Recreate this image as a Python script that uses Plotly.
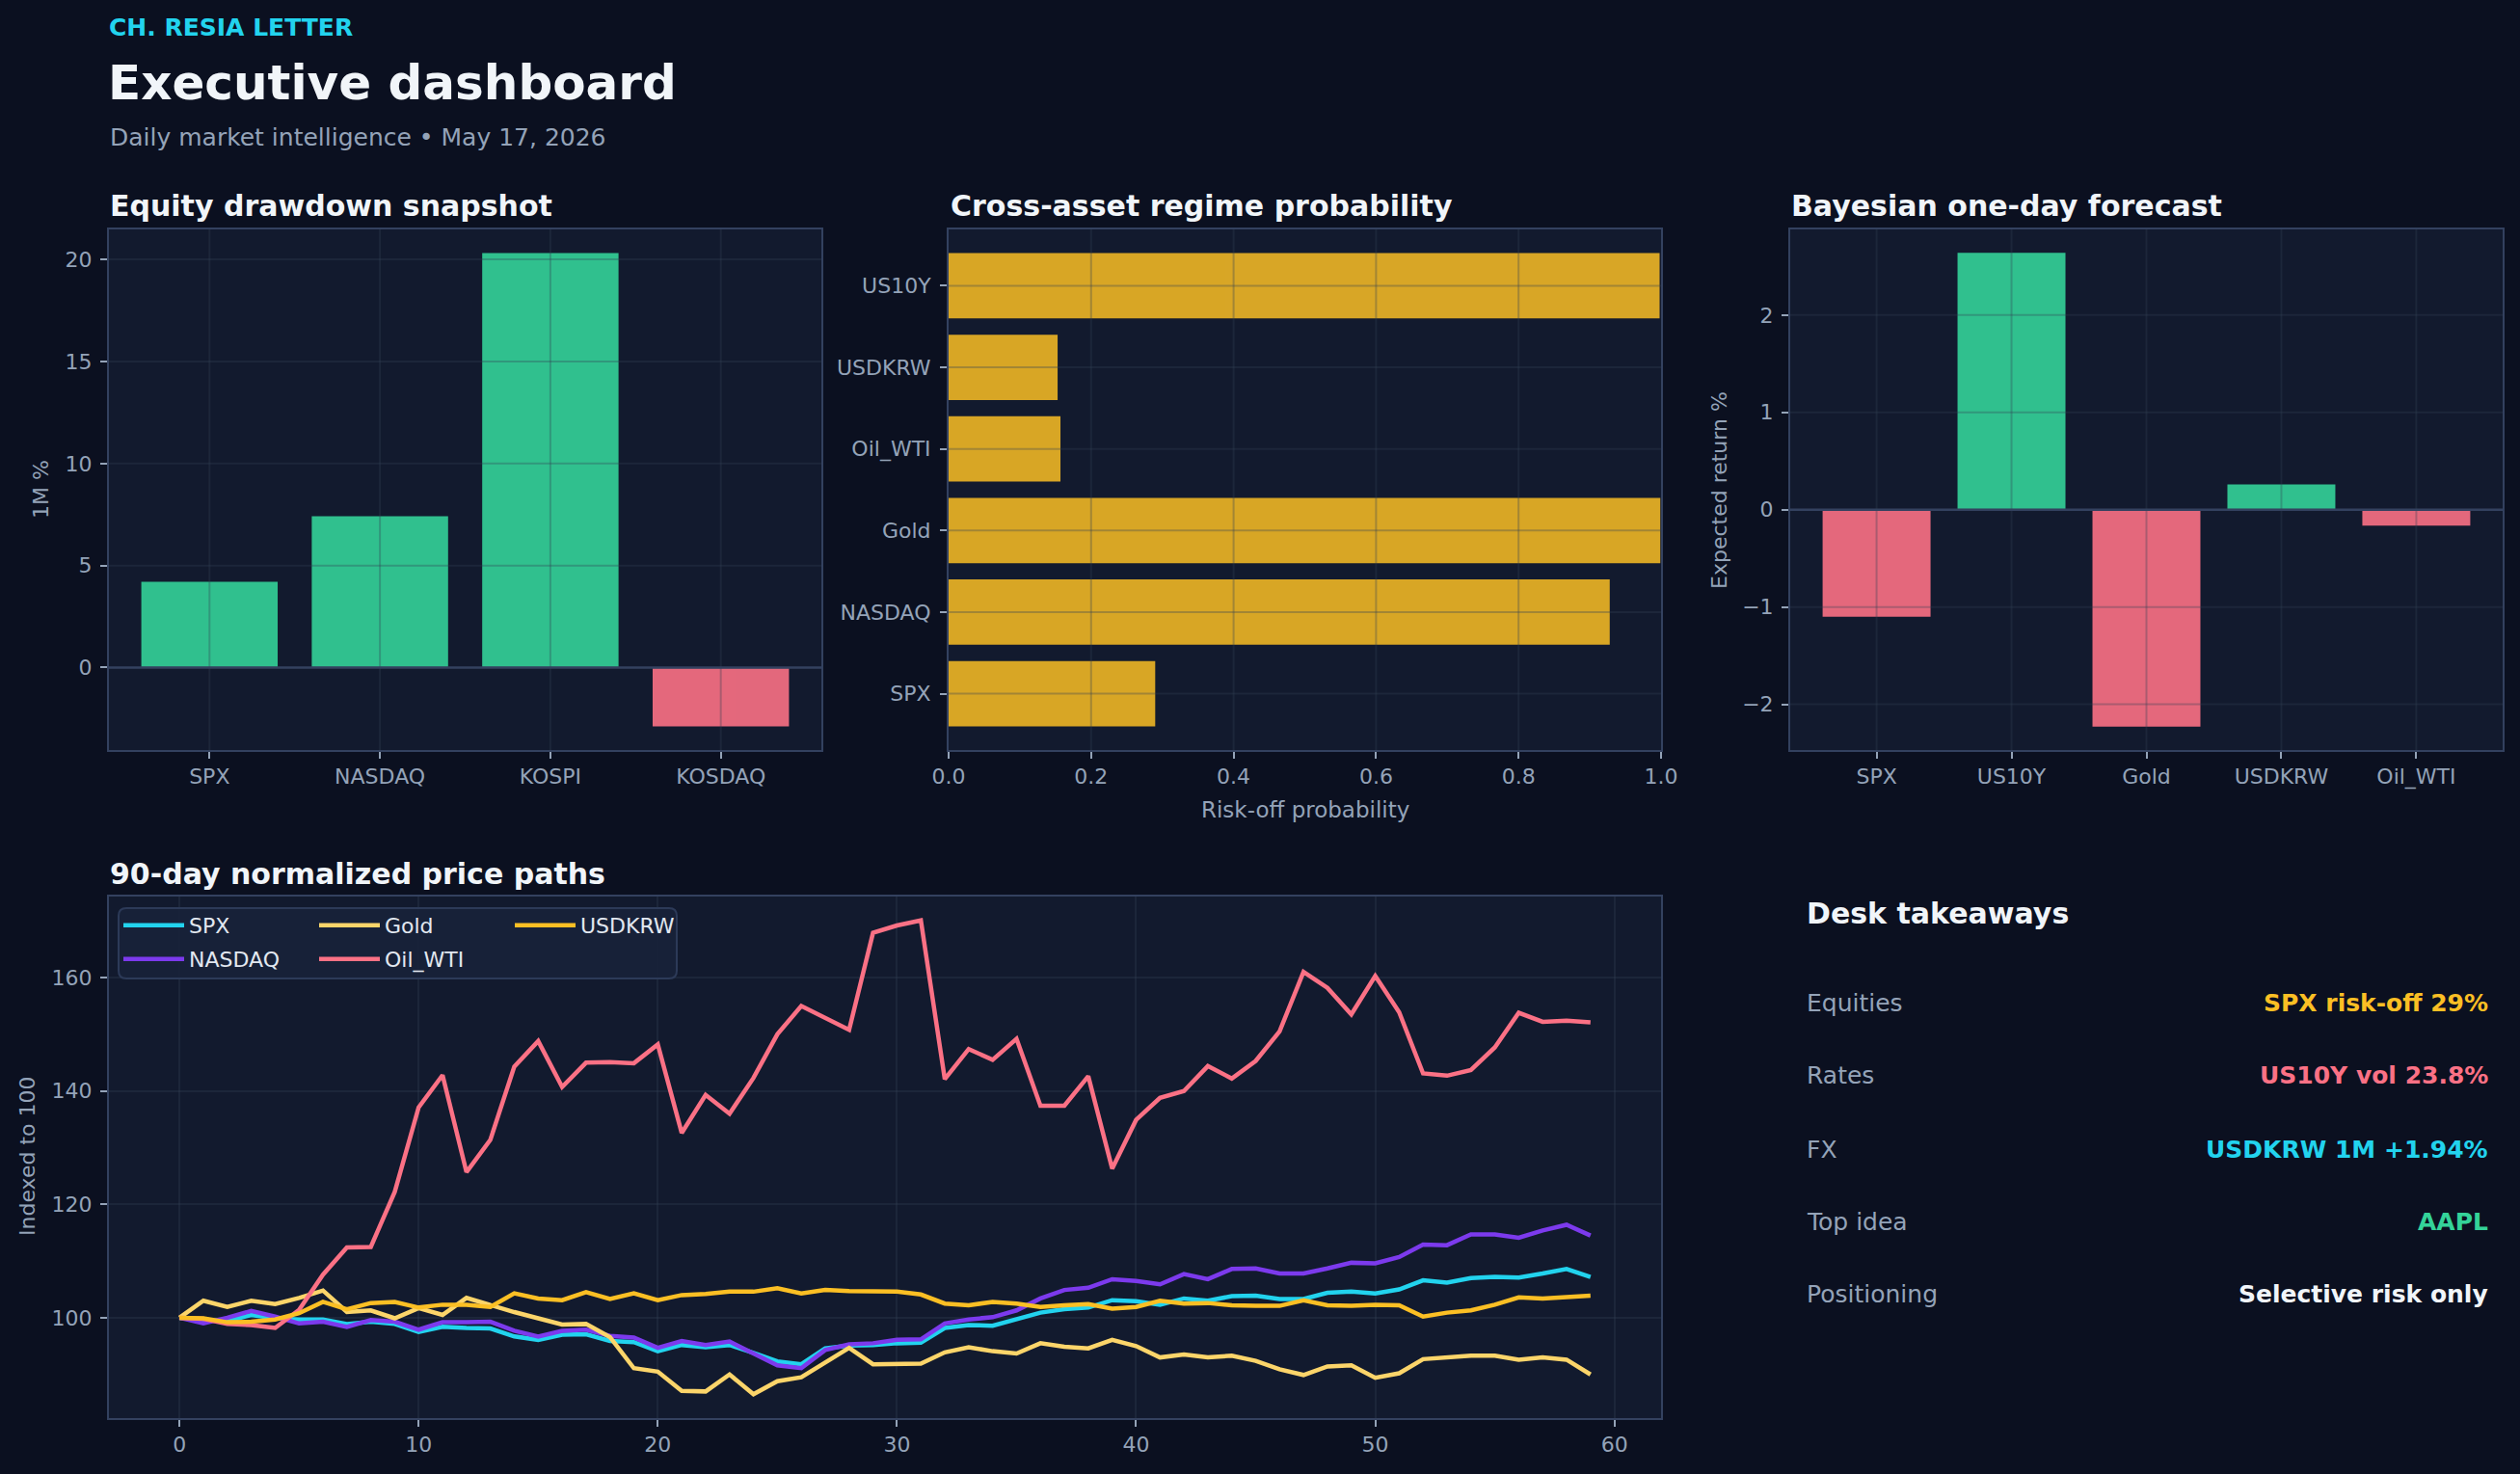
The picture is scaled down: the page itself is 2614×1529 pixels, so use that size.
import plotly.graph_objects as go

W, H = 2614, 1529

BG = "#0b1020"
PANEL = "#121a2e"
GRID = "rgba(51,65,85,0.32)"
SPINE = "#33415f"
MUTED = "#94a3b8"
TEXT = "#f1f5f9"
GREEN = "#34d399"
RED = "#fb7185"
AMBER = "#fbbf24"
CYAN = "#22d3ee"
VIOLET = "#7c3aed"
PALE_GOLD = "#fcd56a"
FONT = "DejaVu Sans"

# --- data ---
equity_names = ["SPX", "NASDAQ", "KOSPI", "KOSDAQ"]
equity_1m = [4.20, 7.42, 20.31, -2.88]

regime_assets = ["SPX", "NASDAQ", "Gold", "Oil_WTI", "USDKRW", "US10Y"]
riskoff_prob = [0.29, 0.928, 0.999, 0.157, 0.153, 0.998]

forecast_assets = ["SPX", "US10Y", "Gold", "USDKRW", "Oil_WTI"]
expected_ret = [-1.10, 2.64, -2.23, 0.26, -0.165]

days = list(range(60))
spx = [100, 99.6, 99.4, 100.5, 99.9, 99.7, 99.7, 98.9, 99.3, 98.9, 97.5, 98.4, 98.2, 98.1, 96.7,
       96.1, 97.0, 97.1, 95.9, 95.7, 94.1, 95.2, 94.8, 95.2, 93.8, 92.3, 91.8, 94.6, 95.1, 95.2,
       95.5, 95.6, 98.2, 98.7, 98.6, 99.7, 100.9, 101.5, 101.8, 103.1, 102.9, 102.3, 103.4, 103.0, 103.8,
       103.9, 103.3, 103.3, 104.4, 104.6, 104.3, 105.0, 106.6, 106.2, 107.0, 107.2, 107.1, 107.8, 108.6, 107.2]
nasdaq = [100, 99.0, 100.0, 101.2, 100.2, 99.0, 99.3, 98.4, 99.6, 99.3, 97.9, 99.2, 99.2, 99.3, 97.7,
          96.7, 97.7, 97.9, 96.8, 96.5, 94.7, 95.9, 95.2, 95.8, 93.7, 91.6, 91.1, 94.3, 95.3, 95.5,
          96.1, 96.2, 99.0, 99.7, 100.1, 101.3, 103.4, 104.9, 105.3, 106.8, 106.5, 105.9, 107.7, 106.8, 108.6,
          108.7, 107.8, 107.8, 108.7, 109.7, 109.6, 110.7, 112.9, 112.8, 114.7, 114.7, 114.1, 115.4, 116.4, 114.5]
gold = [100, 103.0, 101.9, 103.0, 102.4, 103.5, 104.8, 101.0, 101.3, 99.9, 101.7, 100.5, 103.5, 102.2, 101.0,
        99.9, 98.8, 98.9, 96.6, 91.1, 90.5, 87.1, 87.0, 90.0, 86.5, 88.8, 89.5, 92.1, 94.7, 91.8,
        91.9, 91.9, 93.9, 94.8, 94.1, 93.7, 95.5, 94.9, 94.6, 96.1, 95.0, 93.0, 93.5, 93.0, 93.3,
        92.4, 90.9, 89.9, 91.4, 91.6, 89.4, 90.2, 92.7, 93.0, 93.3, 93.3, 92.6, 93.0, 92.6, 90.0]
oil_wti = [100, 99.8, 98.9, 98.7, 98.2, 101.4, 107.6, 112.4, 112.5, 122.2, 137.1, 142.8, 125.7, 131.4, 144.3,
           148.8, 140.7, 145.0, 145.1, 144.9, 148.2, 132.6, 139.3, 136.0, 142.3, 150.0, 155.0, 152.8, 150.8, 167.9,
           169.2, 170.1, 142.1, 147.4, 145.5, 149.2, 137.4, 137.4, 142.6, 126.3, 134.9, 138.8, 140.0, 144.4, 142.2,
           145.3, 150.5, 161.0, 158.2, 153.5, 160.3, 153.9, 143.1, 142.7, 143.7, 147.7, 153.8, 152.2, 152.4, 152.1]
usdkrw = [100, 99.9, 99.2, 99.3, 99.7, 100.8, 102.8, 101.5, 102.6, 102.8, 101.8, 102.3, 102.3, 101.9, 104.3,
          103.4, 103.1, 104.5, 103.3, 104.3, 103.1, 104.0, 104.2, 104.6, 104.6, 105.2, 104.3, 104.9, 104.7, 104.7,
          104.6, 104.1, 102.5, 102.2, 102.8, 102.5, 101.9, 102.2, 102.4, 101.6, 101.9, 103.0, 102.5, 102.6, 102.2,
          102.1, 102.1, 103.1, 102.2, 102.1, 102.3, 102.2, 100.2, 100.9, 101.3, 102.3, 103.6, 103.4, 103.6, 103.9]

takeaway_labels = ["Equities", "Rates", "FX", "Top idea", "Positioning"]
takeaway_values = ["SPX risk-off 29%", "US10Y vol 23.8%", "USDKRW 1M +1.94%", "AAPL", "Selective risk only"]
takeaway_colors = [AMBER, RED, CYAN, GREEN, TEXT]

equity_ticks = [0, 5, 10, 15, 20]
prob_ticks = [0, 0.2, 0.4, 0.6, 0.8, 1.0]
forecast_ticks = [-2, -1, 0, 1, 2]


def fx(px):
    return px / W


def fy(py):
    return 1 - py / H


def sign_colors(vals):
    return [GREEN if v >= 0 else RED for v in vals]


fig = go.Figure()

fig.add_trace(go.Bar(x=equity_names, y=equity_1m, width=0.8, marker_color=sign_colors(equity_1m),
                     opacity=0.9, marker_line_width=0, showlegend=False, xaxis="x", yaxis="y"))
fig.add_trace(go.Bar(x=riskoff_prob, y=regime_assets, orientation="h", width=0.8, marker_color=AMBER,
                     opacity=0.85, marker_line_width=0, showlegend=False, xaxis="x2", yaxis="y2"))
fig.add_trace(go.Bar(x=forecast_assets, y=expected_ret, width=0.8, marker_color=sign_colors(expected_ret),
                     opacity=0.9, marker_line_width=0, showlegend=False, xaxis="x3", yaxis="y3"))

paths = [("SPX", spx, CYAN, "legend"), ("NASDAQ", nasdaq, VIOLET, "legend2"),
         ("Gold", gold, PALE_GOLD, "legend"), ("Oil_WTI", oil_wti, RED, "legend2"),
         ("USDKRW", usdkrw, AMBER, "legend")]
for name, vals, col, leg in paths:
    fig.add_trace(go.Scatter(x=days, y=vals, mode="lines", name=name, line=dict(color=col, width=4.5),
                             legend=leg, xaxis="x4", yaxis="y4"))

axis_style = dict(showline=True, mirror=True, linecolor=SPINE, linewidth=2, showgrid=True,
                  gridcolor=GRID, gridwidth=2, zeroline=False, ticks="outside", ticklen=7,
                  tickwidth=1.5, tickcolor=MUTED, automargin=False,
                  tickfont=dict(family=FONT, size=22, color=MUTED))
# bar panels get their grid drawn over the bars (see shapes below)
bar_axis = dict(axis_style, showgrid=False)

top_y = [fy(778), fy(238)]
fig.update_layout(
    xaxis=dict(bar_axis, domain=[fx(113), fx(852)], anchor="y", type="category", range=[-0.59, 3.59]),
    yaxis=dict(bar_axis, domain=top_y, anchor="x", range=[-4.04, 21.47], tickvals=equity_ticks,
               ticklabelstandoff=4),
    xaxis2=dict(bar_axis, domain=[fx(984), fx(1723)], anchor="y2", range=[0, 1.0],
                tickvals=prob_ticks, tickformat=".1f"),
    yaxis2=dict(bar_axis, domain=top_y, anchor="x2", type="category", range=[-0.69, 5.69],
                ticklabelstandoff=5),
    xaxis3=dict(bar_axis, domain=[fx(1857), fx(2596)], anchor="y3", type="category", range=[-0.64, 4.64]),
    yaxis3=dict(bar_axis, domain=top_y, anchor="x3", range=[-2.47, 2.88], tickvals=forecast_ticks,
                ticklabelstandoff=4),
    xaxis4=dict(axis_style, domain=[fx(113), fx(1723)], anchor="y4", range=[-2.95, 61.95],
                tickvals=[0, 10, 20, 30, 40, 50, 60]),
    yaxis4=dict(axis_style, domain=[fy(1471), fy(930)], anchor="x4", range=[82.3, 174.3],
                tickvals=[100, 120, 140, 160], ticklabelstandoff=4),
)


def vgrid(axx, axy, positions):
    for p in positions:
        fig.add_shape(type="line", xref=axx, yref=f"{axy} domain", x0=p, x1=p, y0=0, y1=1,
                      line=dict(color=GRID, width=2), layer="above")


def hgrid(axx, axy, positions):
    for p in positions:
        fig.add_shape(type="line", xref=f"{axx} domain", yref=axy, x0=0, x1=1, y0=p, y1=p,
                      line=dict(color=GRID, width=2), layer="above")


vgrid("x", "y", equity_names)
hgrid("x", "y", equity_ticks)
vgrid("x2", "y2", prob_ticks[1:-1])
hgrid("x2", "y2", regime_assets)
vgrid("x3", "y3", forecast_assets)
hgrid("x3", "y3", forecast_ticks)
for axx, axy in (("x", "y"), ("x3", "y3")):
    fig.add_shape(type="line", xref=f"{axx} domain", yref=axy, x0=0, x1=1, y0=0, y1=0,
                  line=dict(color=SPINE, width=2.5), layer="above")

legend_style = dict(orientation="h", xanchor="left", yanchor="middle", bgcolor="rgba(0,0,0,0)",
                    borderwidth=0, font=dict(family=FONT, size=22, color="#e2e8f0"),
                    entrywidth=125, entrywidthmode="pixels", itemwidth=63, tracegroupgap=0)
fig.update_layout(
    legend=dict(legend_style, x=fx(123), y=fy(960)),
    legend2=dict(legend_style, x=fx(123), y=fy(995)),
)

# legend frame
x0, x1, y0, y1 = fx(123), fx(702), fy(1015), fy(942)
rx, ry = 8 / W, 8 / H
frame = (f"M{x0 + rx},{y0} L{x1 - rx},{y0} Q{x1},{y0} {x1},{y0 + ry} L{x1},{y1 - ry} Q{x1},{y1} {x1 - rx},{y1} "
         f"L{x0 + rx},{y1} Q{x0},{y1} {x0},{y1 - ry} L{x0},{y0 + ry} Q{x0},{y0} {x0 + rx},{y0} Z")
fig.add_shape(type="path", path=frame, xref="paper", yref="paper", fillcolor="rgba(24,34,58,0.92)",
              line=dict(color="#2c3a58", width=2), layer="above")

annotations = []


def text(x, y, s, size, color, xanchor="left", angle=0, bold=False):
    annotations.append(dict(x=fx(x), y=fy(y), xref="paper", yref="paper", text=f"<b>{s}</b>" if bold else s,
                            showarrow=False, xanchor=xanchor, yanchor="middle", textangle=angle,
                            font=dict(family=FONT, size=size, color=color)))


text(111, 28, "CH. RESIA LETTER", 25, CYAN, bold=True)
text(110, 86, "Executive dashboard", 50, TEXT, bold=True)
text(112, 143, "Daily market intelligence • May 17, 2026", 25, MUTED)

text(112, 214, "Equity drawdown snapshot", 30, TEXT, bold=True)
text(984, 214, "Cross-asset regime probability", 30, TEXT, bold=True)
text(1856, 214, "Bayesian one-day forecast", 30, TEXT, bold=True)
text(112, 906, "90-day normalized price paths", 30, TEXT, bold=True)

text(42, 508, "1M %", 22, MUTED, xanchor="center", angle=-90)
text(1354, 840, "Risk-off probability", 23, MUTED, xanchor="center")
text(1783, 508, "Expected return %", 22, MUTED, xanchor="center", angle=-90)
text(28, 1200, "Indexed to 100", 22, MUTED, xanchor="center", angle=-90)

text(1872, 947, "Desk takeaways", 30, TEXT, bold=True)
row_y = [1040, 1115, 1192, 1267, 1342]
for yy, lab, val, col in zip(row_y, takeaway_labels, takeaway_values, takeaway_colors):
    text(1872, yy, lab, 25, MUTED)
    text(2583, yy, val, 25, col, xanchor="right", bold=True)

fig.update_layout(
    annotations=annotations,
    width=W, height=H,
    margin=dict(l=0, r=0, t=0, b=0, autoexpand=False),
    paper_bgcolor=BG,
    plot_bgcolor=PANEL,
    bargap=0.2,
    font=dict(family=FONT, color=MUTED),
)

page_css = ("document.documentElement.style.margin='0';document.body.style.margin='0';"
            "document.body.style.overflow='hidden';document.body.style.background='#0b1020';")
fig.write_html("out.html", post_script=page_css, config={"displayModeBar": False})
